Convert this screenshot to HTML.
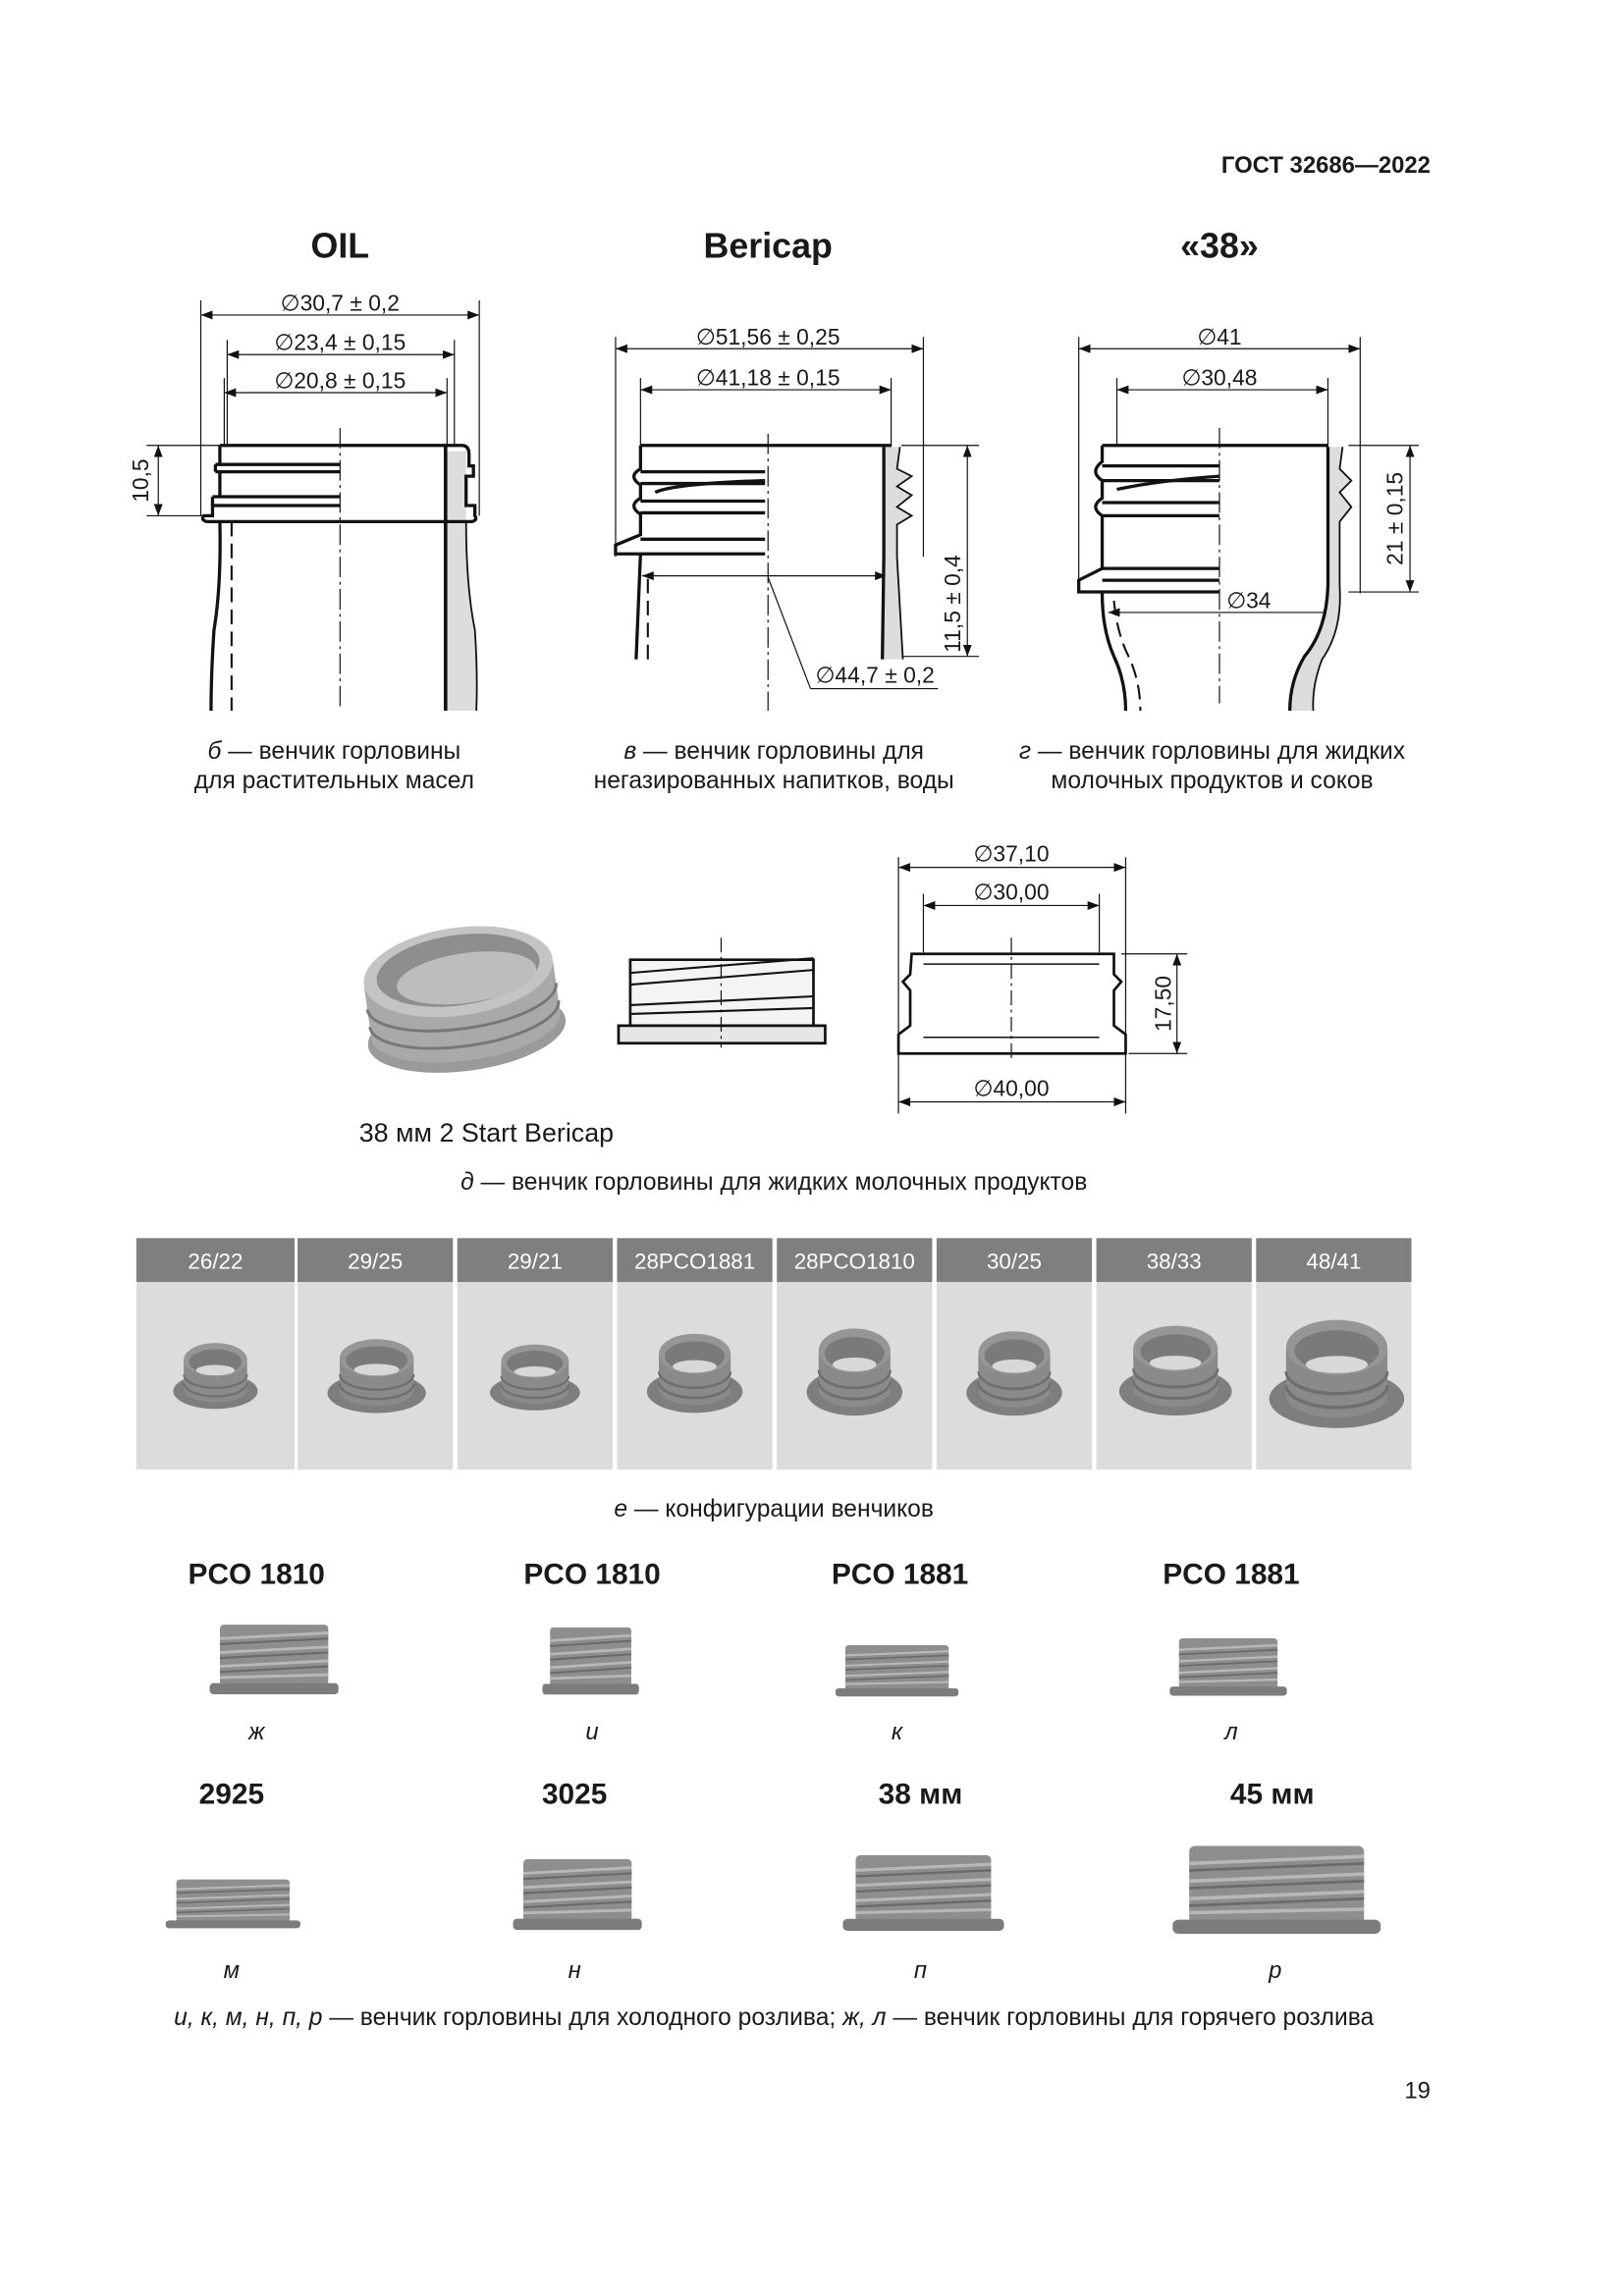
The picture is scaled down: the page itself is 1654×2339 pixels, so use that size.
<!DOCTYPE html>
<html><head><meta charset="utf-8"><style>
html,body{margin:0;padding:0;background:#fff}
svg{display:block}
text{font-family:"Liberation Sans",Arial,sans-serif;fill:#1a1a1a}
.b{font-weight:bold}
.ln{stroke:#111;fill:none}
</style></head><body>
<svg width="1654" height="2339" viewBox="0 0 1108 1567" preserveAspectRatio="none" xmlns="http://www.w3.org/2000/svg">
<defs>
<marker id="a" markerWidth="8" markerHeight="6" refX="8" refY="3" orient="auto-start-reverse" markerUnits="userSpaceOnUse"><path d="M0,0 L8,3 L0,6 z" fill="#111"/></marker>
<symbol id="ring" viewBox="-50 -35 100 70" preserveAspectRatio="none">
<ellipse cx="0" cy="16" rx="48" ry="17" fill="#7e7e7e"/>
<path d="M-36,-14 L-36,14 A36,13 0 0 0 36,14 L36,-14 z" fill="#8a8a8a"/>
<ellipse cx="0" cy="-14" rx="36" ry="16" fill="#969696"/>
<ellipse cx="0" cy="-12" rx="30" ry="12" fill="#7a7a7a"/>
<ellipse cx="0" cy="-4" rx="22" ry="5" fill="#d8d8d8"/>
<path d="M-36,0 A36,13 0 0 0 36,0 M-36,8 A36,13 0 0 0 36,8" stroke="#6e6e6e" stroke-width="2" fill="none"/>
</symbol>
<symbol id="side" viewBox="0 0 100 60" preserveAspectRatio="none">
<rect x="8" y="4" width="84" height="44" rx="3" fill="#8e8e8e"/>
<rect x="0" y="46" width="100" height="8" rx="3" fill="#7c7c7c"/>
<path d="M8,14 L92,10 M8,24 L92,20 M8,34 L92,30 M8,42 L92,40" stroke="#b8b8b8" stroke-width="2"/>
<path d="M8,18 L92,14 M8,28 L92,24 M8,38 L92,34" stroke="#6a6a6a" stroke-width="1.5"/>
</symbol>
</defs>

<text x="976" y="118" text-anchor="end" font-size="16" class="b">ГОСТ 32686—2022</text>
<text x="232" y="176" text-anchor="middle" font-size="24" class="b">OIL</text>
<text x="524" y="176" text-anchor="middle" font-size="24" class="b">Bericap</text>
<text x="832" y="176" text-anchor="middle" font-size="24" class="b">«38»</text>

<!-- OIL drawing -->
<g class="ln" stroke-width="0.8">
<line x1="137" y1="205" x2="137" y2="352"/><line x1="327" y1="205" x2="327" y2="352"/>
<line x1="155" y1="232" x2="155" y2="305"/><line x1="310" y1="232" x2="310" y2="305"/>
<line x1="153" y1="258" x2="153" y2="305"/><line x1="305" y1="258" x2="305" y2="305"/>
<line x1="137" y1="215" x2="327" y2="215" marker-start="url(#a)" marker-end="url(#a)"/>
<line x1="155" y1="242" x2="310" y2="242" marker-start="url(#a)" marker-end="url(#a)"/>
<line x1="153" y1="268" x2="305" y2="268" marker-start="url(#a)" marker-end="url(#a)"/>
<line x1="100" y1="304" x2="150" y2="304"/><line x1="100" y1="352" x2="140" y2="352"/>
<line x1="108" y1="304" x2="108" y2="352" marker-start="url(#a)" marker-end="url(#a)"/>
<line x1="232" y1="292" x2="232" y2="485" stroke-dasharray="14,3,2,3"/>
</g>
<g font-size="15.3">
<text x="232" y="212" text-anchor="middle">∅30,7 ± 0,2</text>
<text x="232" y="239" text-anchor="middle">∅23,4 ± 0,15</text>
<text x="232" y="265" text-anchor="middle">∅20,8 ± 0,15</text>
<text transform="translate(101,328) rotate(-90)" text-anchor="middle">10,5</text>
</g>
<path d="M305,308 L318,308 V356 Q318,400 324,430 Q326,460 325,485 H305 z" fill="#ddd"/>
<g class="ln" stroke-width="2.2">
<path d="M150,304 H315 Q320,304 320,310 V318 H323 V325 H318 V345 H324 V352 Q326,355 322,356 H141 Q137,355 139,352 H145 V345 H232"/>
<path d="M145,339 H232 M147,322 H232 M147,317 H232 M147,317 V322 M145,339 V345 M150,304 V317 M150,322 V339"/>
<path d="M150,356 Q151,400 146,430 Q144,460 144,485"/>
<path d="M318,356 Q318,400 324,430 Q326,460 325,485" stroke-width="1.2"/>
</g>
<line x1="304" y1="304" x2="304" y2="485" stroke="#111" stroke-width="2.4"/>
<line x1="158" y1="356" x2="158" y2="485" stroke="#111" stroke-width="1.4" stroke-dasharray="10,5"/>

<!-- Bericap drawing -->
<g class="ln" stroke-width="0.8">
<line x1="420" y1="230" x2="420" y2="380"/><line x1="630" y1="230" x2="630" y2="380"/>
<line x1="437" y1="258" x2="437" y2="305"/><line x1="608" y1="258" x2="608" y2="305"/>
<line x1="420" y1="238" x2="630" y2="238" marker-start="url(#a)" marker-end="url(#a)"/>
<line x1="437" y1="266" x2="608" y2="266" marker-start="url(#a)" marker-end="url(#a)"/>
<line x1="615" y1="304" x2="668" y2="304"/><line x1="615" y1="448" x2="668" y2="448"/>
<line x1="660" y1="304" x2="660" y2="448" marker-start="url(#a)" marker-end="url(#a)"/>
<line x1="438" y1="393" x2="605" y2="393" marker-start="url(#a)" marker-end="url(#a)"/>
<line x1="524" y1="394" x2="553" y2="470"/><line x1="553" y1="470" x2="640" y2="470"/>
<line x1="524" y1="296" x2="524" y2="485" stroke-dasharray="14,3,2,3"/>
</g>
<g font-size="15.3">
<text x="524" y="235" text-anchor="middle">∅51,56 ± 0,25</text>
<text x="524" y="263" text-anchor="middle">∅41,18 ± 0,15</text>
<text x="597" y="466" text-anchor="middle">∅44,7 ± 0,2</text>
<text transform="translate(655,412) rotate(-90)" text-anchor="middle">11,5 ± 0,4</text>
</g>
<path d="M604,305 L613,305 L612,320 L622,325 L612,332 L622,338 L612,346 L622,352 L612,358 V380 L616,450 H602 z" fill="#ddd"/>
<g class="ln" stroke-width="2.2">
<path d="M437,304 H608 M437,304 V320 Q428,325 437,331 V340 Q428,345 437,351 V365 L420,372 V378 H522 M437,322 H522 M437,330 H522 M437,342 H522 M437,350 H522 M437,368 H522"/>
<path d="M447,336 Q460,330 522,328"/>
<path d="M437,378 L434,450"/>
<path d="M603,305 V380 L602,450"/>
<path d="M614,305 L612,320 L622,325 L612,332 L622,338 L612,346 L622,352 L612,358 V368 L612,380 L616,450" stroke-width="1.2"/>
</g>
<line x1="442" y1="395" x2="442" y2="450" stroke="#111" stroke-width="1.4" stroke-dasharray="10,5"/>

<!-- 38 drawing -->
<g class="ln" stroke-width="0.8">
<line x1="736" y1="230" x2="736" y2="405"/><line x1="928" y1="230" x2="928" y2="405"/>
<line x1="762" y1="258" x2="762" y2="305"/><line x1="906" y1="258" x2="906" y2="305"/>
<line x1="736" y1="238" x2="928" y2="238" marker-start="url(#a)" marker-end="url(#a)"/>
<line x1="762" y1="266" x2="906" y2="266" marker-start="url(#a)" marker-end="url(#a)"/>
<line x1="920" y1="304" x2="968" y2="304"/><line x1="920" y1="404" x2="968" y2="404"/>
<line x1="962" y1="304" x2="962" y2="404" marker-start="url(#a)" marker-end="url(#a)"/>
<line x1="756" y1="418" x2="912" y2="418" marker-start="url(#a)" marker-end="url(#a)"/>
<line x1="832" y1="292" x2="832" y2="480" stroke-dasharray="14,3,2,3"/>
</g>
<g font-size="15.3">
<text x="832" y="235" text-anchor="middle">∅41</text>
<text x="832" y="263" text-anchor="middle">∅30,48</text>
<text x="852" y="415" text-anchor="middle">∅34</text>
<text transform="translate(957,354) rotate(-90)" text-anchor="middle">21 ± 0,15</text>
</g>
<path d="M907,305 L916,305 L914,320 L922,328 L914,336 L922,346 L914,356 V400 Q916,430 902,450 Q895,468 896,485 H880 Q880,465 890,448 Q905,430 906,400 z" fill="#ddd"/>
<g class="ln" stroke-width="2.2">
<path d="M752,304 H906 M752,304 V315 Q743,322 752,328 V340 Q743,346 752,352 V388 L736,396 V404 H832 M752,318 H832 M752,328 H832 M752,343 H832 M752,352 H832 M752,388 H832 M752,396 H832"/>
<path d="M762,334 Q790,328 832,325"/>
<path d="M752,405 Q752,430 760,448 Q768,465 768,485"/>
<path d="M906,305 V400 Q905,430 890,448 Q880,465 880,485"/>
<path d="M916,305 L914,320 L922,328 L914,336 L922,346 L914,356 V400 Q916,430 902,450 Q895,468 896,485" stroke-width="1.2"/>
</g>
<path d="M760,410 Q762,432 770,448 Q778,465 778,485" stroke="#111" stroke-width="1.4" stroke-dasharray="10,5" fill="none"/>

<g font-size="16.5">
<text x="228" y="518" text-anchor="middle"><tspan font-style="italic">б</tspan> — венчик горловины</text>
<text x="228" y="538" text-anchor="middle">для растительных масел</text>
<text x="528" y="518" text-anchor="middle"><tspan font-style="italic">в</tspan> — венчик горловины для</text>
<text x="528" y="538" text-anchor="middle">негазированных напитков, воды</text>
<text x="827" y="518" text-anchor="middle"><tspan font-style="italic">г</tspan> — венчик горловины для жидких</text>
<text x="827" y="538" text-anchor="middle">молочных продуктов и соков</text>
</g>

<!-- section д -->
<g transform="rotate(-8 315 680)">
<ellipse cx="315" cy="705" rx="68" ry="26" fill="#9a9a9a"/>
<path d="M250,665 L250,700 A65,24 0 0 0 380,700 L380,665 z" fill="#a9a9a9"/>
<ellipse cx="315" cy="663" rx="65" ry="30" fill="#c4c4c4"/>
<ellipse cx="315" cy="662" rx="56" ry="24" fill="#8e8e8e"/>
<ellipse cx="320" cy="668" rx="48" ry="17" fill="#bdbdbd"/>
<path d="M250,680 A65,22 0 0 0 380,680 M250,692 A65,22 0 0 0 380,692" stroke="#777" stroke-width="2" fill="none"/>
</g>
<g class="ln" stroke-width="1.8">
<path d="M430,655 H555 V700 H430 z" fill="#f4f4f4"/>
<path d="M430,664 L555,654 M430,672 L555,662 M430,686 L555,680 M430,692 L555,688" stroke-width="1.4"/>
<path d="M422,700 H563 V712 H422 z" fill="#e6e6e6"/>
<line x1="492" y1="640" x2="492" y2="715" stroke-width="0.8" stroke-dasharray="10,3,2,3"/>
</g>
<g class="ln" stroke-width="0.8">
<line x1="613" y1="585" x2="613" y2="760"/><line x1="768" y1="585" x2="768" y2="760"/>
<line x1="630" y1="610" x2="630" y2="650"/><line x1="750" y1="610" x2="750" y2="650"/>
<line x1="613" y1="592" x2="768" y2="592" marker-start="url(#a)" marker-end="url(#a)"/>
<line x1="630" y1="618" x2="750" y2="618" marker-start="url(#a)" marker-end="url(#a)"/>
<line x1="613" y1="752" x2="768" y2="752" marker-start="url(#a)" marker-end="url(#a)"/>
<line x1="765" y1="651" x2="810" y2="651"/><line x1="770" y1="719" x2="810" y2="719"/>
<line x1="803" y1="651" x2="803" y2="719" marker-start="url(#a)" marker-end="url(#a)"/>
<line x1="690" y1="640" x2="690" y2="725" stroke-dasharray="10,3,2,3"/>
</g>
<g class="ln" stroke-width="1.8">
<path d="M622,651 H760 V665 L765,670 L760,676 V700 L768,706 V719 H613 V706 L621,700 V676 L616,670 L621,665 z"/>
<path d="M630,658 H750 M630,708 H750" stroke-width="1"/>
</g>
<g font-size="15.3">
<text x="690" y="588" text-anchor="middle">∅37,10</text>
<text x="690" y="614" text-anchor="middle">∅30,00</text>
<text x="690" y="748" text-anchor="middle">∅40,00</text>
<text transform="translate(799,685) rotate(-90)" text-anchor="middle">17,50</text>
</g>
<text x="245" y="779" font-size="18">38 мм 2 Start Bericap</text>
<text x="528" y="812" text-anchor="middle" font-size="16.5"><tspan font-style="italic">д</tspan> — венчик горловины для жидких молочных продуктов</text>

<!-- table е -->
<g font-size="15">
<rect x="93" y="845" width="108" height="30" fill="#7f7f7f"/><rect x="93" y="875" width="108" height="128" fill="#dcdcdc"/>
<rect x="203" y="845" width="106" height="30" fill="#7f7f7f"/><rect x="203" y="875" width="106" height="128" fill="#dcdcdc"/>
<rect x="312" y="845" width="106" height="30" fill="#7f7f7f"/><rect x="312" y="875" width="106" height="128" fill="#dcdcdc"/>
<rect x="421" y="845" width="106" height="30" fill="#7f7f7f"/><rect x="421" y="875" width="106" height="128" fill="#dcdcdc"/>
<rect x="530" y="845" width="106" height="30" fill="#7f7f7f"/><rect x="530" y="875" width="106" height="128" fill="#dcdcdc"/>
<rect x="639" y="845" width="106" height="30" fill="#7f7f7f"/><rect x="639" y="875" width="106" height="128" fill="#dcdcdc"/>
<rect x="748" y="845" width="106" height="30" fill="#7f7f7f"/><rect x="748" y="875" width="106" height="128" fill="#dcdcdc"/>
<rect x="857" y="845" width="106" height="30" fill="#7f7f7f"/><rect x="857" y="875" width="106" height="128" fill="#dcdcdc"/>
<text x="147" y="866" text-anchor="middle" style="fill:#fff">26/22</text>
<text x="256" y="866" text-anchor="middle" style="fill:#fff">29/25</text>
<text x="365" y="866" text-anchor="middle" style="fill:#fff">29/21</text>
<text x="474" y="866" text-anchor="middle" style="fill:#fff">28PCO1881</text>
<text x="583" y="866" text-anchor="middle" style="fill:#fff">28PCO1810</text>
<text x="692" y="866" text-anchor="middle" style="fill:#fff">30/25</text>
<text x="801" y="866" text-anchor="middle" style="fill:#fff">38/33</text>
<text x="910" y="866" text-anchor="middle" style="fill:#fff">48/41</text>
</g>
<use href="#ring" x="117" y="913" width="60" height="50"/>
<use href="#ring" x="222" y="910" width="70" height="56"/>
<use href="#ring" x="333" y="914" width="64" height="50"/>
<use href="#ring" x="440" y="906" width="68" height="60"/>
<use href="#ring" x="549" y="902" width="68" height="66"/>
<use href="#ring" x="658" y="904" width="68" height="64"/>
<use href="#ring" x="762" y="900" width="80" height="68"/>
<use href="#ring" x="864" y="895" width="96" height="82"/>
<text x="528" y="1035" text-anchor="middle" font-size="16.5"><tspan font-style="italic">е</tspan> — конфигурации венчиков</text>

<!-- bottom rows -->
<g font-size="20" class="b">
<text x="175" y="1081" text-anchor="middle" class="b">PCO 1810</text>
<text x="404" y="1081" text-anchor="middle" class="b">PCO 1810</text>
<text x="614" y="1081" text-anchor="middle" class="b">PCO 1881</text>
<text x="840" y="1081" text-anchor="middle" class="b">PCO 1881</text>
<text x="158" y="1231" text-anchor="middle" class="b">2925</text>
<text x="392" y="1231" text-anchor="middle" class="b">3025</text>
<text x="628" y="1231" text-anchor="middle" class="b">38 мм</text>
<text x="868" y="1231" text-anchor="middle" class="b">45 мм</text>
</g>
<use href="#side" x="143" y="1105" width="88" height="57"/>
<use href="#side" x="370" y="1107" width="66" height="55"/>
<use href="#side" x="570" y="1120" width="84" height="42"/>
<use href="#side" x="798" y="1115" width="80" height="47"/>
<use href="#side" x="113" y="1280" width="92" height="40"/>
<use href="#side" x="350" y="1265" width="88" height="58"/>
<use href="#side" x="575" y="1262" width="110" height="62"/>
<use href="#side" x="800" y="1255" width="142" height="72"/>
<g font-size="16" font-style="italic">
<text x="175" y="1187" text-anchor="middle">ж</text>
<text x="404" y="1187" text-anchor="middle">и</text>
<text x="612" y="1187" text-anchor="middle">к</text>
<text x="840" y="1187" text-anchor="middle">л</text>
<text x="158" y="1350" text-anchor="middle">м</text>
<text x="392" y="1350" text-anchor="middle">н</text>
<text x="628" y="1350" text-anchor="middle">п</text>
<text x="870" y="1350" text-anchor="middle">р</text>
</g>
<text x="528" y="1382" text-anchor="middle" font-size="16.5"><tspan font-style="italic">и, к, м, н, п, р</tspan> — венчик горловины для холодного розлива; <tspan font-style="italic">ж, л</tspan> — венчик горловины для горячего розлива</text>
<text x="976" y="1432" text-anchor="end" font-size="16">19</text>
</svg>
</body></html>
